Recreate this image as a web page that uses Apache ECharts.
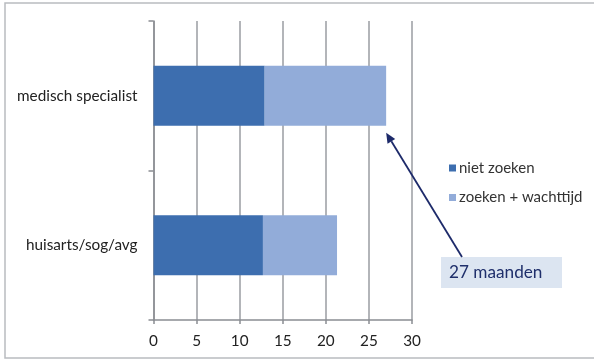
<!DOCTYPE html>
<html><head><meta charset="utf-8">
<script src="https://cdn.jsdelivr.net/npm/echarts@6/dist/echarts.min.js"></script>
<style>html,body{margin:0;padding:0;background:#fff}#c{width:594px;height:360px}</style>
</head><body><div id="c"></div>
<script>
const categories = ['huisarts/sog/avg', 'medisch specialist'];
const nietZoeken = [12.7, 12.9];
const zoekenWachttijd = [8.6, 14.1];
const seriesNames = ['niet zoeken', 'zoeken + wachttijd'];
const xTicks = [0, 5, 10, 15, 20, 25, 30];
const annotationTotal = 27;
const annotationLabel = annotationTotal + ' maanden';

const FONT = 'Lato';
const chart = echarts.init(document.getElementById('c'), null, {renderer: 'canvas'});
chart.setOption({
  animation: false,
  backgroundColor: '#fff',
  textStyle: {fontFamily: FONT},
  grid: {left: 153.5, right: 182, top: 21, bottom: 40, containLabel: false},
  legend: {
    orient: 'vertical', left: 444, top: 155, itemWidth: 7, itemHeight: 7, itemGap: 13.5,
    icon: 'rect',
    textStyle: {fontFamily: FONT, fontSize: 15, lineHeight: 16, color: '#333', padding: [0, 0, 0, -2]},
    data: seriesNames
  },
  xAxis: {
    type: 'value', min: xTicks[0], max: xTicks[xTicks.length - 1], interval: 5,
    axisLine: {show: true, lineStyle: {color: '#8a8d92', width: 1.5}},
    axisTick: {show: true, length: 4, lineStyle: {color: '#8a8d92', width: 1.5}},
    axisLabel: {color: '#222', fontSize: 15.3, fontFamily: FONT, margin: 14},
    splitLine: {show: true, lineStyle: {color: '#9a9da2', width: 1.5}}
  },
  yAxis: {
    type: 'category', data: categories,
    axisLine: {show: true, lineStyle: {color: '#8a8d92', width: 1.5}},
    axisTick: {show: true, length: 5, lineStyle: {color: '#8a8d92', width: 1.5}},
    axisLabel: {color: '#222', fontSize: 15.3, fontFamily: FONT, margin: 16}
  },
  series: [
    {name: seriesNames[0], type: 'bar', stack: 't', data: nietZoeken, barWidth: 60,
     itemStyle: {color: '#3d6eaf'}},
    {name: seriesNames[1], type: 'bar', stack: 't', data: zoekenWachttijd, barWidth: 60,
     itemStyle: {color: '#92acd9'}}
  ]
});

// annotation: box with arrow pointing to the end of the top bar
const tip = chart.convertToPixel({gridIndex: 0}, [annotationTotal, 1]);
const end = [tip[0], tip[1] + 37];
const start = [462, 257];
const dx = end[0] - start[0], dy = end[1] - start[1];
const len = Math.sqrt(dx * dx + dy * dy);
const ux = dx / len, uy = dy / len;
const hl = 10, hw = 4.5;
const base = [end[0] - ux * hl, end[1] - uy * hl];
const head = [end, [base[0] - uy * hw, base[1] + ux * hw], [base[0] + uy * hw, base[1] - ux * hw]];
chart.setOption({
  graphic: [
    {type: 'rect', shape: {x: 5, y: 3, width: 620, height: 355}, style: {fill: 'none', stroke: '#b9bcc0', lineWidth: 1.5}, z: -1, silent: true},
    {type: 'rect', shape: {x: 441, y: 257, width: 121, height: 31}, style: {fill: '#dce5f1'}},
    {type: 'text', x: 449, y: 272.5, style: {text: annotationLabel, fill: '#1f2f6b', font: '17.2px ' + FONT, textVerticalAlign: 'middle'}},
    {type: 'line', shape: {x1: start[0], y1: start[1], x2: base[0], y2: base[1]}, style: {stroke: '#1d2a6a', lineWidth: 1.8}},
    {type: 'polygon', shape: {points: head}, style: {fill: '#1d2a6a'}}
  ]
});
</script></body></html>
